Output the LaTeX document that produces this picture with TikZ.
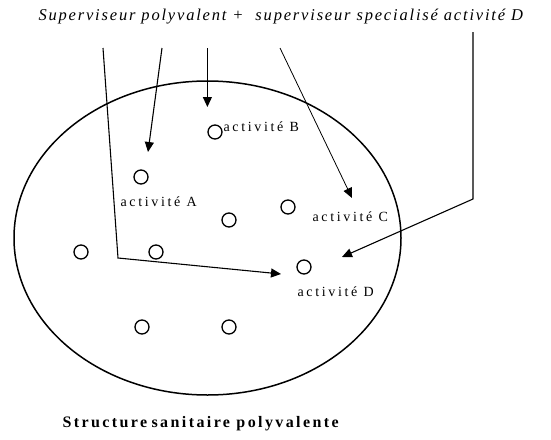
\documentclass[tikz,border=0pt]{standalone}
\usepackage{fontspec}
\setmainfont{Liberation Serif}
\usetikzlibrary{arrows.meta}

\begin{document}
\begin{tikzpicture}[x=1pt,y=-1pt,line width=1.1pt,>={Triangle[length=10pt,width=9pt]},
  poste/.style={draw,circle,line width=1.3pt,minimum size=14pt,inner sep=0pt},
  etiq/.style={anchor=base west,inner sep=0pt,font=\fontsize{14}{16}\selectfont\addfontfeature{LetterSpace=19}}]
  \useasboundingbox (0,0) rectangle (551,439);
  % structure sanitaire
  \draw[line width=1.5pt] (207.5,238) ellipse [x radius=193.5,y radius=157];
  \node[anchor=base west,inner sep=0pt,font=\bfseries\fontsize{16}{18}\selectfont\addfontfeature{LetterSpace=15}] (titre) at (62,427) {Structure\hspace{-2pt} sanitaire polyvalente};
  % superviseurs
  \node[anchor=base west,inner sep=0pt,font=\itshape\fontsize{16.5}{18}\selectfont\addfontfeature{LetterSpace=11}] (sup) at (38,20) {Superviseur polyvalent +~ superviseur specialisé activité D};
  % postes
  \node[poste] (pB) at (215,132) {};
  \node[poste] (pA) at (141,177) {};
  \node[poste] (p3) at (229,220) {};
  \node[poste] (pC) at (288,207) {};
  \node[poste] (p5) at (81,252) {};
  \node[poste] (p6) at (156,252) {};
  \node[poste] (pD) at (304,267) {};
  \node[poste] (p8) at (142,327) {};
  \node[poste] (p9) at (229,327) {};
  \node[etiq] (lB) at (223,131) {activité B};
  \node[etiq] (lA) at (120,206) {activité A};
  \node[etiq] (lC) at (312,221) {activité C};
  \node[etiq] (lD) at (297,296) {activité D};
  % fleches
  \coordinate (h1) at (103,48);
  \coordinate (k1) at (118,258);
  \coordinate (f1) at (281,274);
  \coordinate (h2) at (162,48);
  \coordinate (f2) at (148,152);
  \coordinate (h3) at (207.4,48);
  \coordinate (f3) at (207.4,107);
  \coordinate (h4) at (280,48);
  \coordinate (f4) at (352,198);
  \coordinate (h5) at (473,32);
  \coordinate (k5) at (473,199);
  \coordinate (f5) at (342,257);
  \draw[->] (h1) -- (k1) -- (f1);
  \draw[->] (h2) -- (f2);
  \draw[->] (h3) -- (f3);
  \draw[->,line width=0.8pt] (h4) -- (f4);
  \draw[->] (h5) -- (k5) -- (f5);
\end{tikzpicture}
\end{document}
